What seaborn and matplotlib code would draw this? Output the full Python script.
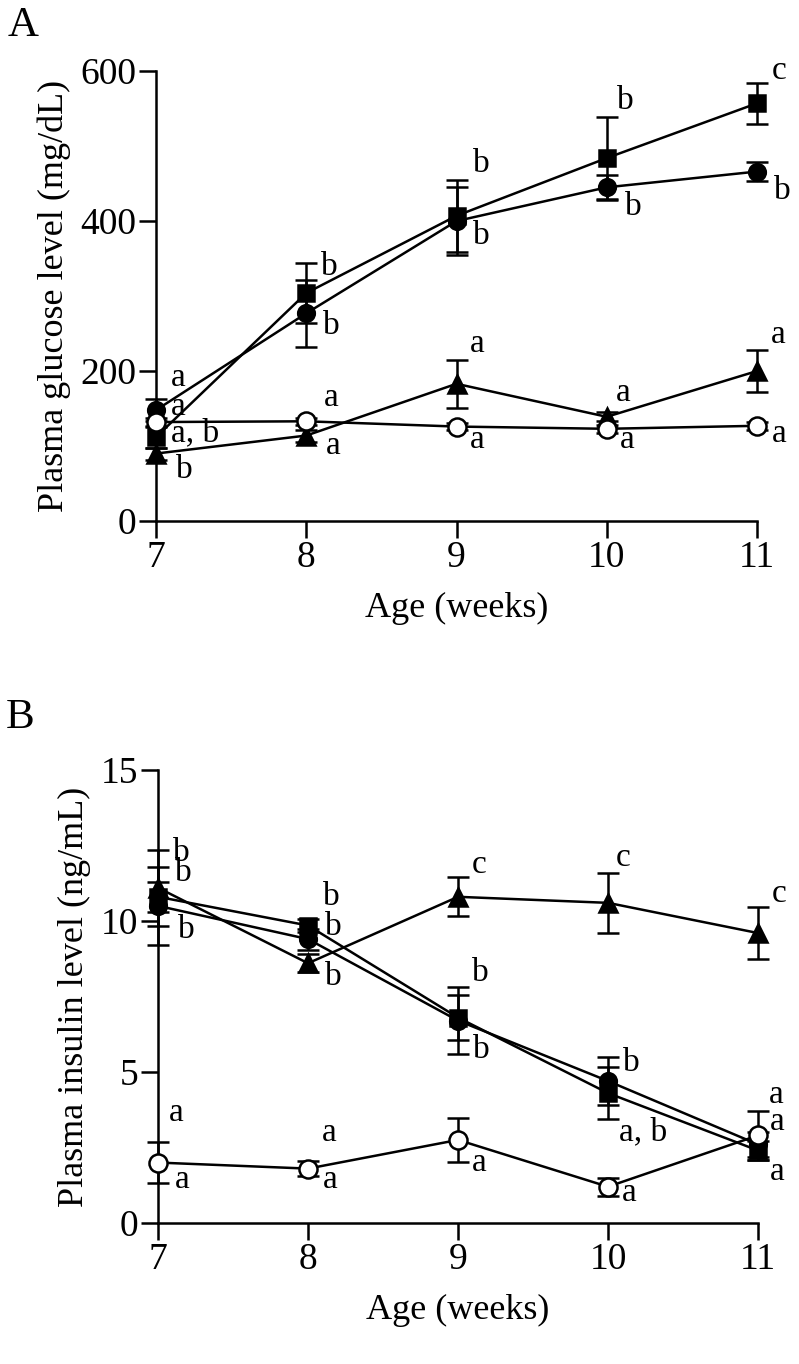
import matplotlib

matplotlib.use('Agg')
import matplotlib.pyplot as plt
import pandas as pd
import seaborn as sns

# Data (mean and SEM per week)
weeks = [7, 8, 9, 10, 11]

# Panel A - plasma glucose (mg/dL)
glu_square = [112, 304, 407, 484, 557]
glu_square_sem = [15, 40, 48, 55, 27]
glu_circle = [148, 277, 400, 445, 466]
glu_circle_sem = [15, 45, 45, 17, 13]
glu_triangle = [90, 114, 183, 139, 200]
glu_triangle_sem = [8, 8, 32, 6, 28]
glu_open = [132, 133, 126, 123, 127]
glu_open_sem = [6, 5, 5, 5, 5]

# Panel B - plasma insulin (ng/mL)
ins_square = [10.8, 9.85, 6.8, 4.3, 2.4]
ins_square_sem = [0.5, 0.2, 0.75, 0.85, 0.3]
ins_circle = [10.5, 9.4, 6.7, 4.7, 2.6]
ins_circle_sem = [1.3, 0.35, 1.1, 0.8, 0.4]
ins_triangle = [11.1, 8.6, 10.8, 10.6, 9.6]
ins_triangle_sem = [1.25, 0.3, 0.65, 1.0, 0.85]
ins_open = [2.0, 1.8, 2.75, 1.2, 2.9]
ins_open_sem = [0.67, 0.25, 0.73, 0.3, 0.8]

# significance letters: (text, x, y)
letters_a = [
    ('a', 7.10, 191), ('a', 7.10, 152), ('a, b', 7.10, 117), ('b', 7.13, 68),
    ('b', 8.10, 339), ('b', 8.11, 261), ('a', 8.12, 164), ('a', 8.13, 101),
    ('b', 9.11, 477), ('b', 9.11, 381), ('a', 9.09, 237), ('a', 9.09, 108),
    ('b', 10.07, 561), ('b', 10.12, 419), ('a', 10.06, 171), ('a', 10.09, 108),
    ('c', 11.10, 601), ('b', 11.11, 441), ('a', 11.09, 248), ('a', 11.10, 117),
]
letters_b = [
    ('b', 7.10, 12.25), ('b', 7.11, 11.6), ('b', 7.13, 9.7), ('a', 7.07, 3.64), ('a', 7.11, 1.42),
    ('b', 8.10, 10.8), ('b', 8.11, 9.8), ('b', 8.11, 8.15), ('a', 8.09, 2.98), ('a', 8.10, 1.42),
    ('c', 9.09, 11.85), ('b', 9.09, 8.28), ('b', 9.10, 5.73), ('a', 9.09, 1.99),
    ('c', 10.05, 12.1), ('b', 10.10, 5.3), ('a, b', 10.07, 3.0), ('a', 10.09, 0.99),
    ('c', 11.09, 10.9), ('a', 11.07, 4.24), ('a', 11.08, 3.34), ('a', 11.08, 1.69),
]

sns.set_style('ticks')
plt.rcParams['font.family'] = ['Liberation Serif', 'DejaVu Serif']
plt.rcParams['axes.linewidth'] = 1.8
for key in ['text.color', 'axes.labelcolor', 'axes.edgecolor', 'xtick.color', 'ytick.color']:
    plt.rcParams[key] = 'black'

fig = plt.figure(figsize=(7.99, 13.64), dpi=100)
ax_a = fig.add_axes([0.1765, 0.618, 0.7897, 0.3299])
ax_b = fig.add_axes([0.179, 0.1034, 0.7885, 0.3321])

styles = {
    'square': dict(marker='s', markersize=11, markerfacecolor='black'),
    'circle': dict(marker='o', markersize=12, markerfacecolor='black'),
    'triangle': dict(marker='^', markersize=13, markerfacecolor='black'),
    'open': dict(marker='o', markersize=13, markerfacecolor='white'),
}


def draw_series(ax, name, vals, sem, z):
    df = pd.DataFrame({'week': weeks, 'value': vals})
    ax.errorbar(df['week'], df['value'], yerr=sem, fmt='none', ecolor='black',
                elinewidth=1.8, capsize=8, capthick=1.8, clip_on=False, zorder=z)
    sns.lineplot(data=df, x='week', y='value', ax=ax, color='black', linewidth=1.8,
                 markeredgecolor='black', markeredgewidth=1.8, clip_on=False,
                 zorder=z + 0.5, **styles[name])


def style_axes(ax, ymax, yticks, ylabel, letters):
    ax.set_xlim(6.9, 11.1)
    ax.set_ylim(0, ymax)
    ax.spines['left'].set_position(('data', 7))
    ax.spines['left'].set_bounds(0, ymax)
    ax.spines['bottom'].set_bounds(7, 11)
    sns.despine(ax=ax)
    ax.set_xticks(weeks)
    ax.set_yticks(yticks)
    ax.tick_params(length=12, width=1.8, labelsize=27, pad=2)
    ax.set_xlabel('Age (weeks)', fontsize=26, labelpad=12)
    ax.set_ylabel(ylabel, fontsize=26, labelpad=7)
    for txt, x, y in letters:
        ax.text(x, y, txt, fontsize=24, ha='left', va='center', zorder=10)


draw_series(ax_a, 'square', glu_square, glu_square_sem, 3)
draw_series(ax_a, 'circle', glu_circle, glu_circle_sem, 4)
draw_series(ax_a, 'triangle', glu_triangle, glu_triangle_sem, 5)
draw_series(ax_a, 'open', glu_open, glu_open_sem, 6)
style_axes(ax_a, 600, [0, 200, 400, 600], 'Plasma glucose level (mg/dL)', letters_a)

draw_series(ax_b, 'square', ins_square, ins_square_sem, 3)
draw_series(ax_b, 'circle', ins_circle, ins_circle_sem, 4)
draw_series(ax_b, 'triangle', ins_triangle, ins_triangle_sem, 5)
draw_series(ax_b, 'open', ins_open, ins_open_sem, 6)
style_axes(ax_b, 15, [0, 5, 10, 15], 'Plasma insulin level (ng/mL)', letters_b)

fig.text(8 / 799, 1 - 26 / 1364, 'A', fontsize=31, va='center', ha='left')
fig.text(6 / 799, 1 - 718 / 1364, 'B', fontsize=31, va='center', ha='left')

fig.savefig('out.png', dpi=100)
